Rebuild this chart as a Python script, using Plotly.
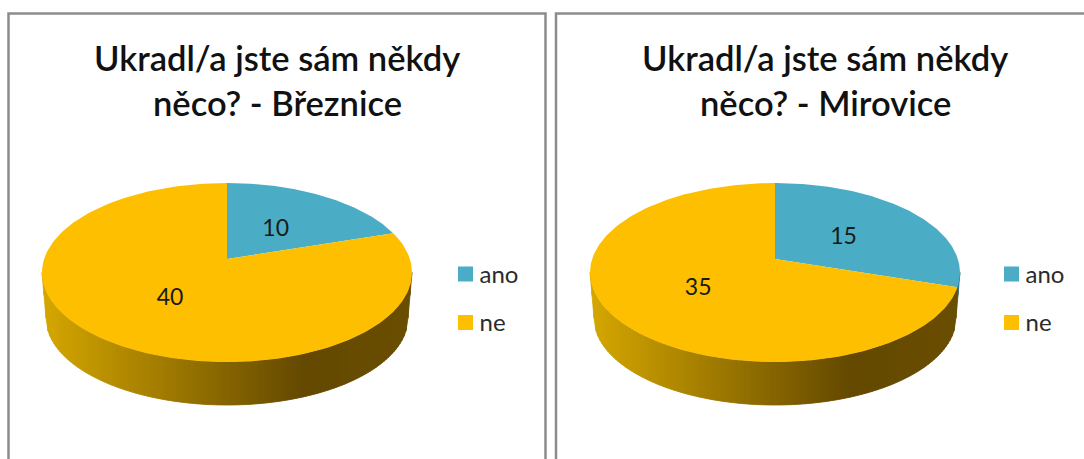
"""Two tilted 3D-look pie charts, drawn in pixel coordinates on a hidden axis."""
import numpy as np
import plotly.graph_objects as go

CATEGORIES = ["ano", "ne"]
VALUES_BREZNICE = [10, 40]
VALUES_MIROVICE = [15, 35]
TITLE_LINE_1 = "Ukradl/a jste sám někdy"
TITLE_BREZNICE = "něco? - Březnice"
TITLE_MIROVICE = "něco? - Mirovice"

COLORS = ["#4BACC6", "#FDBF00"]
SIDE_BLUE = "#2F6E80"
SIDE_STOPS = [0.0, 0.71, 1.0]
SIDE_R = [214, 100, 107]
SIDE_G = [168, 73, 79]
FONT = "Lato"

W, H = 1084, 459
RX, RY = 185.0, 89.5      # top ellipse
RX2, RY2 = 181.0, 87.0    # bottom ellipse
EY = 272.5                # ellipse centre y
BOTTOM = 405.0
APEX_UP = 13.5            # the pie apex sits above the ellipse centre (perspective)
K = APEX_UP / RY
A = RX * np.sqrt(1 - K ** 2)


def project(cx, theta, r=1.0):
    """Circle point, clockwise from 12 o'clock, to picture coordinates."""
    u, v = r * np.sin(theta), r * np.cos(theta)
    d = 1 + K * v
    return cx + A * u / d, EY - (RY * v + APEX_UP) / d


def side_color(t):
    return "rgb(%d,%d,0)" % (np.interp(t, SIDE_STOPS, SIDE_R), np.interp(t, SIDE_STOPS, SIDE_G))


def add_pie(fig, cx, values, legend_x):
    total = sum(values)
    edges = np.cumsum([0] + values) / total * 2 * np.pi

    # front rim points, used to find which slice each side strip belongs to
    rim = np.linspace(0, 2 * np.pi, 1441)[:-1]
    rim_x, rim_y = project(cx, rim)
    front = rim_y > EY
    rim_x, rim = rim_x[front], rim[front]

    for x0 in np.arange(cx - RX, cx + RX, 2.0):
        mid = x0 + 1.0
        xs = np.array([x0, x0 + 2.0])
        y_top = EY + RY * np.sqrt(np.clip(1 - ((xs - cx) / RX) ** 2, 0, 1))
        dx = np.abs(xs - cx)
        y_bot = np.where(
            dx <= RX2,
            (BOTTOM - RY2) + RY2 * np.sqrt(np.clip(1 - (dx / RX2) ** 2, 0, 1)),
            EY + (RX - dx) / (RX - RX2) * (BOTTOM - RY2 - EY),
        )
        theta = rim[np.argmin(np.abs(rim_x - mid))]
        first_slice = theta < edges[1]
        color = SIDE_BLUE if first_slice else side_color((mid - cx + RX) / (2 * RX))
        fig.add_trace(go.Scatter(
            x=[xs[0], xs[1], xs[1], xs[0], xs[0]],
            y=[y_top[0], y_top[1], y_bot[1], y_bot[0], y_top[0]],
            mode="lines", fill="toself", fillcolor=color,
            line=dict(color=color, width=0.8), hoverinfo="skip", showlegend=False,
        ))

    apex_x, apex_y = project(cx, 0.0, 0.0)
    for i, cat in enumerate(CATEGORIES):
        th = np.linspace(edges[i], edges[i + 1], 240)
        px, py = project(cx, th)
        fig.add_trace(go.Scatter(
            x=[apex_x, *px, apex_x], y=[apex_y, *py, apex_y],
            mode="lines", fill="toself", fillcolor=COLORS[i],
            line=dict(color=COLORS[i], width=0), name=cat,
            hoverinfo="name", showlegend=False,
        ))

    # data labels
    mids = (edges[:-1] + edges[1:]) / 2
    lx, ly = project(cx, mids, 0.49)
    fig.add_trace(go.Scatter(
        x=lx - 1, y=ly + 3.5, mode="text", text=[str(v) for v in values],
        textposition="middle center",
        textfont=dict(family=FONT, size=23, color="#1a1a1a"),
        hoverinfo="skip", showlegend=False,
    ))

    # legend
    fig.add_trace(go.Scatter(
        x=[legend_x, legend_x], y=[274, 322.5], mode="markers",
        marker=dict(symbol="square", size=15, color=COLORS, line=dict(width=0)),
        hoverinfo="skip", showlegend=False,
    ))
    fig.add_trace(go.Scatter(
        x=[legend_x + 14, legend_x + 14], y=[276.5, 324.5], mode="text",
        text=CATEGORIES, textposition="middle right",
        textfont=dict(family=FONT, size=24, color="#2b2b2b"),
        hoverinfo="skip", showlegend=False,
    ))


fig = go.Figure()
add_pie(fig, 227, VALUES_BREZNICE, 465.5)
add_pie(fig, 775, VALUES_MIROVICE, 1011.5)

shapes = [
    dict(type="rect", xref="x", yref="y", x0=8.5, x1=545.5, y0=13.5, y1=480,
         line=dict(color="#8C8C8C", width=2.5)),
    dict(type="rect", xref="x", yref="y", x0=556, x1=1110, y0=13.5, y1=480,
         line=dict(color="#8C8C8C", width=2.5)),
]

annotations = []
for x, y, t in [(277, 57, TITLE_LINE_1), (277, 102, TITLE_BREZNICE),
                (825, 57, TITLE_LINE_1), (825, 102, TITLE_MIROVICE)]:
    annotations.append(dict(
        x=x, y=y, xref="x", yref="y", text=t, showarrow=False,
        font=dict(family=FONT, size=34.5, color="#111111", weight=600),
    ))

fig.update_layout(
    width=W, height=H, margin=dict(l=0, r=0, t=0, b=0),
    paper_bgcolor="white", plot_bgcolor="white", showlegend=False,
    xaxis=dict(range=[0, W], visible=False, fixedrange=True),
    yaxis=dict(range=[H, 0], visible=False, fixedrange=True),
    shapes=shapes, annotations=annotations,
)

fig.write_html("out.html", config=dict(displayModeBar=False),
               post_script="document.body.style.margin='0';document.body.style.overflow='hidden';")
